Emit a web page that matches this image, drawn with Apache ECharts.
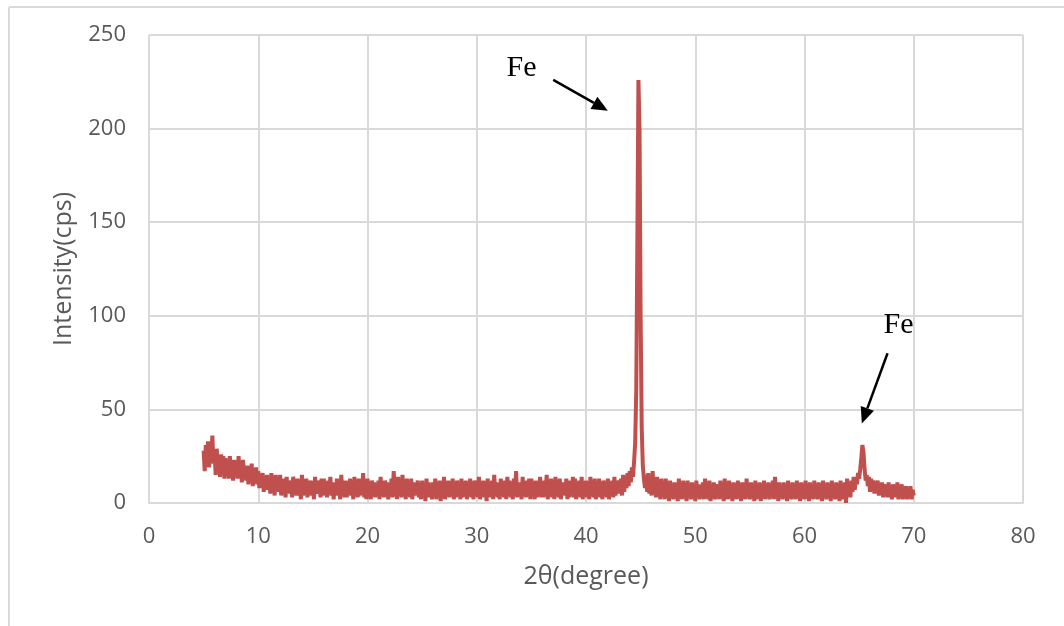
<!DOCTYPE html>
<html>
<head>
<meta charset="utf-8">
<script src="https://cdn.jsdelivr.net/npm/echarts@6/dist/echarts.min.js"></script>
<style>html,body{margin:0;padding:0;background:#fff;}#c{width:1064px;height:626px;}</style>
</head>
<body>
<div id="c"></div>
<script>
// 2θ scan: start, step (degrees)
const scanStart = 5.0;
const scanStep = 0.1;
// Intensity (cps), one row per degree from 5 to 70
const intensity = [
  28,17,31,20,33,19,30,24,36,21,
  27,15,29,18,23,14,26,19,25,13,
  24,16,21,13,25,17,20,12,23,15,
  22,13,25,14,19,11,23,16,20,12,
  20,10,18,13,21,9,17,12,19,10,
  17,8,14,11,16,6,13,9,15,7,
  14,5,16,8,12,4,15,7,13,6,
  15,4,11,7,13,3,14,6,10,5,
  12,3,14,8,10,4,13,5,11,2,
  15,4,11,6,13,3,10,7,12,4,
  11,2,14,5,9,6,12,3,13,4,
  13,5,10,3,12,7,14,4,11,2,
  10,4,13,6,11,2,15,5,12,3,
  12,3,9,5,13,4,11,2,14,6,
  11,3,13,4,10,6,16,3,12,2,
  13,4,10,2,12,5,11,3,9,4,
  12,2,14,5,10,3,12,6,11,2,
  10,4,13,3,17,5,12,2,14,4,
  11,3,15,5,10,2,13,4,12,3,
  13,2,11,4,9,5,12,3,10,2,
  12,4,10,1,13,3,11,5,9,2,
  11,3,13,2,10,4,12,1,11,3,
  14,2,10,4,12,3,9,5,13,2,
  10,3,12,5,11,2,13,3,10,4,
  12,2,11,4,13,3,10,2,12,5,
  11,3,14,2,10,4,12,3,11,1,
  13,4,10,3,12,2,15,4,11,3,
  10,2,13,5,11,3,12,2,14,4,
  12,3,10,2,13,4,17,3,11,5,
  11,2,14,4,10,3,12,5,13,2,
  13,4,11,2,12,3,10,4,14,3,
  10,3,12,5,15,2,11,4,13,3,
  12,2,14,4,10,3,13,2,11,5,
  11,4,13,2,12,3,10,5,14,3,
  13,2,10,4,12,3,14,2,11,4,
  12,3,11,2,14,4,10,3,13,2,
  10,4,13,3,11,2,12,5,10,3,
  13,2,11,4,12,3,14,4,11,5,
  12,5,13,4,15,6,14,8,16,9,
  17,11,19,14,22,32,60,140,226,200,
  100,40,20,13,8,15,6,16,5,13,
  4,17,5,12,3,14,6,11,2,13,
  4,11,2,13,5,10,1,12,3,9,
  2,11,4,9,1,13,3,10,2,12,
  3,10,1,12,4,9,2,11,3,10,
  1,12,3,10,2,9,4,11,2,13,
  3,10,2,12,1,9,3,11,2,10,
  4,9,2,12,3,10,1,13,2,10,
  2,12,3,9,1,11,4,10,2,12,
  3,10,1,11,4,9,2,13,3,10,
  2,11,3,9,1,12,2,10,4,11,
  1,10,3,12,2,9,4,11,2,10,
  3,12,2,14,4,10,1,11,3,9,
  2,11,4,10,1,12,3,9,2,11,
  3,10,2,12,4,9,1,11,3,10,
  2,12,3,9,1,11,4,10,2,12,
  3,9,2,11,4,10,1,12,3,9,
  2,11,3,10,1,12,4,9,2,11,
  3,10,1,12,2,9,3,11,0,13,
  4,11,3,12,6,14,7,13,10,16,
  13,18,24,31,27,18,12,15,9,14,
  6,13,7,12,5,11,6,12,4,10,
  5,11,3,10,6,9,3,11,4,9,
  2,10,4,9,3,11,2,8,3,10,
  2,8,4,9,2,7,3,9,2,7,
  4
];
const xTicks = [0,10,20,30,40,50,60,70,80];
const yTicks = [0,50,100,150,200,250];
const xLabel = '2θ(degree)';
const yLabel = 'Intensity(cps)';
// annotations: [text, textPos, arrowTail, arrowTip] in data coords
const notes = [
  ['Fe', [34.1, 232.5], [37.0, 226.0], [42.0, 209.5]],
  ['Fe', [68.6, 95.0], [67.6, 80.0], [65.25, 42.5]]
];

const points = intensity.map((v, i) => [+(scanStart + i * scanStep).toFixed(2), v]);

const chart = echarts.init(document.getElementById('c'), null, {renderer: 'canvas'});
const tickFont = {color: '#595959', fontSize: 22, fontFamily: 'Open Sans'};
chart.setOption({
  animation: false,
  backgroundColor: '#fff',
  grid: {left: 149, right: 41, top: 35, bottom: 123, containLabel: false},
  xAxis: {
    type: 'value', min: xTicks[0], max: xTicks[xTicks.length - 1], interval: 10,
    name: xLabel, nameLocation: 'middle', nameGap: 61,
    nameTextStyle: {color: '#595959', fontSize: 25, fontFamily: 'Open Sans'},
    axisLine: {show: true, lineStyle: {color: '#d9d9d9', width: 2}},
    axisTick: {show: false},
    axisLabel: Object.assign({margin: 23}, tickFont),
    splitLine: {show: true, lineStyle: {color: '#d9d9d9', width: 2}}
  },
  yAxis: {
    type: 'value', min: yTicks[0], max: yTicks[yTicks.length - 1], interval: 50,
    name: yLabel, nameLocation: 'middle', nameGap: 73, nameRotate: 90,
    nameTextStyle: {color: '#595959', fontSize: 25, fontFamily: 'Open Sans'},
    axisLine: {show: false},
    axisTick: {show: false},
    axisLabel: Object.assign({margin: 23}, tickFont),
    splitLine: {show: true, lineStyle: {color: '#d9d9d9', width: 2}}
  },
  series: [{
    type: 'line', data: points, showSymbol: false, symbol: 'none',
    lineStyle: {color: '#C0504D', width: 4}, z: 5
  }]
});

function drawNotes() {
  const els = [
    {type: 'line', shape: {x1: 9, y1: 7, x2: 1064, y2: 7}, style: {stroke: '#d9d9d9', lineWidth: 2}},
    {type: 'line', shape: {x1: 9, y1: 7, x2: 9, y2: 626}, style: {stroke: '#d9d9d9', lineWidth: 2}}
  ];
  notes.forEach(n => {
    const t = chart.convertToPixel({gridIndex: 0}, n[1]);
    const a = chart.convertToPixel({gridIndex: 0}, n[2]);
    const b = chart.convertToPixel({gridIndex: 0}, n[3]);
    const dx = b[0] - a[0], dy = b[1] - a[1];
    const len = Math.sqrt(dx * dx + dy * dy);
    const ux = dx / len, uy = dy / len;
    const hl = 16, hw = 7;
    const bx = b[0] - ux * hl, by = b[1] - uy * hl;
    els.push({type: 'line', z: 10, shape: {x1: a[0], y1: a[1], x2: bx, y2: by}, style: {stroke: '#000', lineWidth: 2.5}});
    els.push({type: 'polygon', z: 10, shape: {points: [[b[0], b[1]], [bx - uy * hw, by + ux * hw], [bx + uy * hw, by - ux * hw]]}, style: {fill: '#000'}});
    els.push({type: 'text', z: 10, x: t[0], y: t[1], style: {text: n[0], fill: '#000', font: '30px "Liberation Serif"', align: 'center', verticalAlign: 'middle'}});
  });
  chart.setOption({graphic: els});
}
drawNotes();
</script>
</body>
</html>
